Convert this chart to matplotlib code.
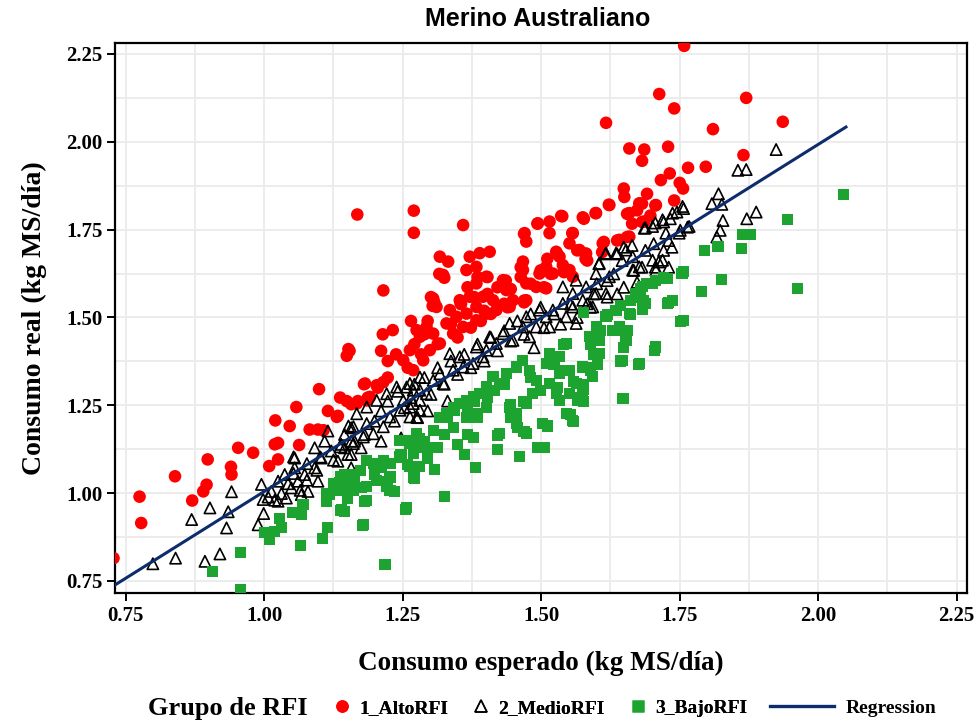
import matplotlib
matplotlib.use("Agg")
import matplotlib.pyplot as plt
import numpy as np
from matplotlib.lines import Line2D
from matplotlib.ticker import MultipleLocator

# values (expected, real consumption, kg MS/dia)
alto_rfi = np.array([
    (0.728, 0.815), (0.775, 0.99), (0.778, 0.915), (0.839, 1.048), (0.87, 0.979), (0.89, 1.005),
    (0.896, 1.024), (0.898, 1.096), (0.94, 1.075), (0.941, 1.053), (0.953, 1.129), (0.98, 1.115),
    (1.009, 1.077), (1.02, 1.207), (1.019, 1.139), (1.025, 1.143), (1.046, 1.191), (1.058, 1.245),
    (1.063, 1.137), (1.025, 1.096), (1.082, 1.181), (1.097, 1.181), (1.099, 1.296), (1.115, 1.234),
    (1.133, 1.22), (1.137, 1.272), (1.149, 1.262), (1.149, 1.391), (1.152, 1.41),
    (1.167, 1.255), (1.185, 1.264), (1.182, 1.312), (1.203, 1.307), (1.215, 1.316), (1.191, 1.274),
    (1.131, 1.217), (1.107, 1.179),
    (1.154, 1.405), (1.214, 1.452), (1.232, 1.464), (1.304, 1.533), (1.355, 1.538), (1.397, 1.519),
    (1.439, 1.529), (1.469, 1.543), (1.211, 1.405), (1.223, 1.376), (1.238, 1.395), (1.223, 1.329),
    (1.205, 1.3), (1.259, 1.357), (1.271, 1.424), (1.289, 1.452), (1.283, 1.395), (1.313, 1.424),
    (1.337, 1.481), (1.349, 1.443), (1.373, 1.471), (1.391, 1.49), (1.409, 1.51), (1.295, 1.49),
    (1.18, 1.31), (1.169, 1.262), (1.157, 1.253), (1.187, 1.272), (1.265, 1.49),
    (1.27, 1.804), (1.27, 1.741), (1.359, 1.763), (1.317, 1.673), (1.332, 1.659), (1.371, 1.673),
    (1.389, 1.683), (1.407, 1.687), (1.323, 1.621), (1.365, 1.635), (1.383, 1.644), (1.401, 1.616),
    (1.383, 1.597), (1.47, 1.74), (1.473, 1.716), (1.494, 1.768), (1.515, 1.773), (1.536, 1.789),
    (1.575, 1.785), (1.599, 1.797), (1.623, 1.82), (1.659, 1.797), (1.677, 1.825), (1.686, 1.773),
    (1.707, 1.82), (1.659, 1.73), (1.641, 1.721), (1.515, 1.74), (1.557, 1.74), (1.551, 1.711),
    (1.527, 1.687), (1.533, 1.673), (1.569, 1.692), (1.581, 1.682), (1.611, 1.711), (1.467, 1.659),
    (1.467, 1.635), (1.497, 1.625), (1.509, 1.644), (1.521, 1.625), (1.539, 1.649), (1.551, 1.635),
    (1.557, 1.616), (1.491, 1.587), (1.509, 1.583), (1.473, 1.597), (1.431, 1.606), (1.437, 1.578),
    (1.449, 1.549), (1.473, 1.549), (1.443, 1.53), (1.305, 1.554), (1.311, 1.53), (1.353, 1.549),
    (1.371, 1.559), (1.383, 1.53), (1.395, 1.559), (1.413, 1.549), (1.419, 1.521), (1.401, 1.511),
    (1.365, 1.511), (1.335, 1.521), (1.347, 1.502), (1.383, 1.492), (1.275, 1.464), (1.293, 1.473),
    (1.305, 1.454), (1.281, 1.445), (1.329, 1.483), (1.341, 1.454), (1.359, 1.473), (1.317, 1.426),
    (1.299, 1.407), (1.263, 1.407), (1.251, 1.378), (1.287, 1.378), (1.269, 1.35),
    (1.168, 1.793), (1.215, 1.577), (1.316, 1.624), (1.325, 1.613), (1.385, 1.615), (1.403, 1.615),
    (1.367, 1.586), (1.379, 1.558), (1.301, 1.558), (1.307, 1.543), (1.355, 1.539), (1.403, 1.567),
    (1.421, 1.586), (1.436, 1.605), (1.445, 1.581), (1.469, 1.738), (1.493, 1.767), (1.538, 1.788),
    (1.577, 1.781), (1.556, 1.74), (1.565, 1.691), (1.58, 1.667), (1.511, 1.667), (1.529, 1.681),
    (1.463, 1.643), (1.463, 1.615), (1.499, 1.634), (1.517, 1.624), (1.541, 1.629), (1.481, 1.596),
    (1.505, 1.586), (1.469, 1.548), (1.433, 1.539),
    (1.758, 2.273), (1.713, 2.136), (1.74, 2.095), (1.87, 2.125), (1.617, 2.054), (1.81, 2.036),
    (1.936, 2.057), (1.659, 1.981), (1.686, 1.978), (1.682, 1.946), (1.729, 1.986), (1.865, 1.962),
    (1.765, 1.926), (1.797, 1.929), (1.732, 1.91), (1.716, 1.891), (1.75, 1.883), (1.756, 1.867),
    (1.649, 1.867), (1.65, 1.843), (1.691, 1.852), (1.74, 1.833), (1.622, 1.821), (1.598, 1.797),
    (1.655, 1.795), (1.673, 1.805), (1.682, 1.824), (1.706, 1.819), (1.697, 1.79), (1.664, 1.767),
    (1.682, 1.772), (1.655, 1.729), (1.637, 1.719), (1.613, 1.715), (1.61, 1.686), (1.58, 1.681),
    (1.583, 1.662),
])

medio_rfi = np.array([
    (0.799, 0.799), (0.84, 0.815), (0.893, 0.806), (0.92, 0.827), (0.869, 0.925), (0.902, 0.958),
    (0.935, 0.947), (0.932, 0.901), (0.941, 1.004), (0.989, 0.91), (0.999, 0.942), (0.995, 1.025),
    (0.998, 0.982), (1.013, 1.005), (1.025, 1.034), (1.037, 1.053), (1.025, 0.977), (1.04, 0.986),
    (1.049, 1.015), (1.055, 1.072), (1.061, 1.034), (1.073, 1.053), (1.079, 1.005), (1.091, 1.072),
    (1.097, 1.034), (1.091, 1.129), (1.103, 1.1), (1.109, 1.148), (1.115, 1.177), (1.121, 1.12),
    (1.133, 1.091), (1.139, 1.139), (1.145, 1.167), (1.152, 1.191), (1.157, 1.11), (1.157, 1.148),
    (1.055, 1.1), (1.067, 0.996),
    (1.167, 1.226), (1.185, 1.245), (1.203, 1.264), (1.221, 1.283), (1.239, 1.302), (1.263, 1.312),
    (1.281, 1.293), (1.269, 1.255), (1.245, 1.236), (1.227, 1.217), (1.215, 1.189), (1.197, 1.169),
    (1.179, 1.16), (1.161, 1.141), (1.137, 1.132), (1.125, 1.094), (1.101, 1.103), (1.095, 1.065),
    (1.077, 1.037), (1.065, 1.008), (1.053, 1.056), (1.043, 1.027), (1.031, 0.999), (1.019, 0.98),
    (1.007, 0.989), (1.053, 1.103), (1.077, 1.084), (1.161, 1.189), (1.185, 1.198), (1.263, 1.217),
    (1.281, 1.236),
    (1.151, 1.11), (1.163, 1.148), (1.157, 1.186), (1.181, 1.167), (1.175, 1.129), (1.199, 1.205),
    (1.211, 1.234), (1.223, 1.262), (1.235, 1.205), (1.241, 1.29), (1.253, 1.243), (1.271, 1.31),
    (1.265, 1.272), (1.277, 1.215), (1.289, 1.329), (1.301, 1.281), (1.313, 1.357), (1.325, 1.31),
    (1.337, 1.376), (1.331, 1.262), (1.349, 1.338), (1.361, 1.395), (1.373, 1.357), (1.385, 1.424),
    (1.397, 1.376), (1.409, 1.443), (1.421, 1.405), (1.433, 1.462), (1.445, 1.433), (1.457, 1.49),
    (1.469, 1.452), (1.481, 1.51), (1.487, 1.414), (1.499, 1.529), (1.505, 1.471), (1.523, 1.51),
    (1.535, 1.481), (1.553, 1.538), (1.565, 1.5), (1.589, 1.529), (1.295, 1.234), (1.247, 1.157),
    (1.211, 1.148), (1.157, 1.072), (1.145, 1.129),
    (1.755, 1.816), (1.767, 1.759), (1.737, 1.797), (1.719, 1.778), (1.701, 1.759), (1.686, 1.754),
    (1.725, 1.74), (1.749, 1.74), (1.653, 1.692), (1.635, 1.683), (1.665, 1.673), (1.617, 1.683),
    (1.677, 1.644), (1.665, 1.635), (1.701, 1.663), (1.719, 1.663), (1.707, 1.635), (1.605, 1.654),
    (1.599, 1.625), (1.623, 1.616), (1.581, 1.587), (1.599, 1.568), (1.617, 1.568), (1.563, 1.606),
    (1.539, 1.587), (1.557, 1.568), (1.575, 1.549), (1.593, 1.53), (1.557, 1.53), (1.539, 1.54),
    (1.521, 1.521), (1.545, 1.502), (1.563, 1.483), (1.497, 1.521), (1.509, 1.502), (1.515, 1.473),
    (1.491, 1.473), (1.473, 1.502), (1.467, 1.473), (1.479, 1.445), (1.443, 1.483), (1.431, 1.454),
    (1.449, 1.435), (1.419, 1.426), (1.407, 1.445), (1.401, 1.407), (1.383, 1.416), (1.395, 1.388),
    (1.377, 1.369), (1.353, 1.388), (1.359, 1.359), (1.335, 1.397), (1.341, 1.35), (1.317, 1.34),
    (1.323, 1.312), (1.305, 1.321), (1.293, 1.283), (1.281, 1.33), (1.269, 1.293), (1.257, 1.302),
    (1.263, 1.245), (1.275, 1.216), (1.251, 1.264), (1.281, 1.264),
    (1.924, 1.978), (1.855, 1.919), (1.87, 1.921), (1.82, 1.852), (1.808, 1.824), (1.826, 1.822),
    (1.888, 1.8), (1.871, 1.781), (1.828, 1.776), (1.823, 1.748), (1.817, 1.729), (1.757, 1.81),
    (1.745, 1.8), (1.733, 1.781), (1.721, 1.772), (1.706, 1.769), (1.688, 1.755), (1.764, 1.757),
    (1.751, 1.748), (1.73, 1.719), (1.736, 1.7), (1.721, 1.691), (1.703, 1.71), (1.688, 1.691),
    (1.664, 1.705), (1.649, 1.7), (1.637, 1.681), (1.616, 1.681), (1.604, 1.653), (1.712, 1.658),
    (1.73, 1.643), (1.706, 1.643), (1.682, 1.643), (1.667, 1.634), (1.646, 1.662), (1.631, 1.624),
    (1.619, 1.605), (1.6, 1.596), (1.649, 1.586), (1.637, 1.567), (1.619, 1.558), (1.595, 1.567),
    (1.583, 1.539), (1.673, 1.6),
])

bajo_rfi = np.array([
    (0.906, 0.777), (0.957, 0.83), (0.957, 0.725), (1.001, 0.887), (1.01, 0.868), (1.019, 0.891),
    (1.028, 0.929), (1.031, 0.901), (1.066, 0.85), (1.052, 0.944), (1.067, 0.939), (1.07, 0.967),
    (1.105, 0.872), (1.115, 0.901), (1.112, 0.977), (1.118, 0.996), (1.138, 0.95), (1.136, 1.029),
    (1.154, 1.015), (1.157, 1.053),
    (1.245, 1.15), (1.263, 1.141), (1.281, 1.155), (1.293, 1.131), (1.269, 1.113), (1.245, 1.103),
    (1.227, 1.084), (1.215, 1.094), (1.197, 1.084), (1.185, 1.094), (1.173, 1.065), (1.161, 1.037),
    (1.149, 1.027), (1.137, 1.046), (1.125, 1.027), (1.137, 1.008), (1.161, 1.008), (1.185, 1.018),
    (1.203, 1.037), (1.227, 1.046), (1.221, 1.018), (1.263, 1.075), (1.281, 1.075), (1.269, 1.046),
    (1.257, 0.958), (1.227, 1.008), (1.113, 0.999), (1.185, 0.98), (1.179, 0.912), (1.139, 0.953),
    (1.115, 0.901), (1.218, 0.798),
    (1.145, 1.053), (1.163, 1.034), (1.151, 0.986), (1.175, 1.015), (1.181, 0.977), (1.199, 1.053),
    (1.211, 1.072), (1.223, 1.034), (1.235, 1.005), (1.247, 1.11), (1.259, 1.082), (1.271, 1.043),
    (1.277, 1.129), (1.289, 1.148), (1.295, 1.1), (1.307, 1.067), (1.313, 1.129), (1.325, 1.167),
    (1.331, 1.215), (1.343, 1.234), (1.349, 1.139), (1.361, 1.11), (1.367, 1.167), (1.367, 1.243),
    (1.379, 1.262), (1.382, 1.072), (1.385, 1.215), (1.403, 1.272), (1.415, 1.291), (1.421, 1.163),
    (1.421, 1.124), (1.433, 1.31), (1.445, 1.253), (1.445, 1.215), (1.457, 1.186), (1.46, 1.105),
    (1.469, 1.176), (1.469, 1.262), (1.481, 1.329), (1.493, 1.129), (1.499, 1.291), (1.505, 1.129),
    (1.511, 1.191), (1.523, 1.367), (1.529, 1.3), (1.535, 1.348), (1.541, 1.424), (1.553, 1.224),
    (1.559, 1.205), (1.559, 1.319), (1.565, 1.272), (1.577, 1.31), (1.589, 1.424), (1.589, 1.348),
    (1.325, 0.991), (1.255, 0.953), (1.178, 0.908), (1.145, 0.948),
    (1.757, 1.63), (1.727, 1.611), (1.701, 1.597), (1.683, 1.587), (1.671, 1.568), (1.689, 1.54),
    (1.737, 1.549), (1.757, 1.492), (1.707, 1.416), (1.677, 1.369), (1.647, 1.378), (1.647, 1.269),
    (1.653, 1.435), (1.617, 1.502), (1.635, 1.521), (1.659, 1.511), (1.599, 1.473), (1.587, 1.445),
    (1.605, 1.435), (1.629, 1.464), (1.641, 1.473), (1.545, 1.426), (1.533, 1.388), (1.515, 1.397),
    (1.509, 1.369), (1.605, 1.397), (1.575, 1.359), (1.551, 1.35), (1.533, 1.34), (1.563, 1.312),
    (1.551, 1.283), (1.575, 1.283), (1.566, 1.264), (1.515, 1.312), (1.491, 1.321), (1.479, 1.35),
    (1.467, 1.378), (1.455, 1.359), (1.437, 1.34), (1.425, 1.312), (1.413, 1.331), (1.401, 1.302),
    (1.389, 1.283), (1.377, 1.274), (1.365, 1.264), (1.353, 1.254), (1.341, 1.245), (1.329, 1.226),
    (1.317, 1.216), (1.365, 1.216), (1.383, 1.226), (1.401, 1.245), (1.443, 1.245), (1.455, 1.226),
    (1.473, 1.254), (1.485, 1.283), (1.527, 1.283), (1.533, 1.264), (1.503, 1.197), (1.545, 1.226),
    (1.557, 1.207), (1.455, 1.197), (1.473, 1.169), (1.425, 1.169), (1.377, 1.159), (1.341, 1.188),
    (1.305, 1.178), (1.275, 1.169), (1.263, 1.15), (1.497, 1.131), (1.593, 1.331),
    (1.577, 1.514), (1.595, 1.443), (1.607, 1.462), (1.595, 1.395), (1.601, 1.367), (1.583, 1.357),
    (1.577, 1.296), (1.577, 1.262), (1.643, 1.462), (1.643, 1.376), (1.649, 1.414), (1.648, 1.269),
    (1.655, 1.462), (1.661, 1.509), (1.675, 1.367), (1.682, 1.524), (1.685, 1.548), (1.705, 1.407),
    (1.728, 1.54), (1.751, 1.489), (1.619, 1.509),
    (1.945, 1.778), (1.864, 1.736), (1.877, 1.736), (1.861, 1.697), (1.819, 1.703), (1.794, 1.691),
    (1.754, 1.624), (1.825, 1.607), (1.79, 1.575), (1.963, 1.583), (1.73, 1.543), (1.721, 1.613),
    (1.706, 1.605), (1.691, 1.596), (1.679, 1.581), (1.673, 1.558), (1.661, 1.548), (1.643, 1.534),
    (1.685, 1.539), (2.045, 1.85),
])

regression_x = [0.73, 2.05]
regression_y = [0.738, 2.042]

tick_values = [0.75, 1.00, 1.25, 1.50, 1.75, 2.00, 2.25]
group_labels = ["1_AltoRFI", "2_MedioRFI", "3_BajoRFI"]

serif = "Liberation Serif"
red, green, navy = "#FF0000", "#1CA330", "#0D2C6C"

fig = plt.figure(figsize=(9.78, 7.24), dpi=100)
ax = fig.add_axes([0.1176, 0.1809, 0.8712, 0.7601])

ax.scatter(alto_rfi[:, 0], alto_rfi[:, 1], s=82, c=red, edgecolors="none", zorder=3)
ax.scatter(medio_rfi[:, 0], medio_rfi[:, 1], s=66, marker="^", facecolors="none",
           edgecolors="black", linewidths=1.2, zorder=4)
ax.scatter(bajo_rfi[:, 0], bajo_rfi[:, 1], s=64, marker="s", c=green, edgecolors="none", zorder=5)
ax.plot(regression_x, regression_y, color=navy, lw=2.2, zorder=6)

ax.set_xlim(0.7307, 2.2686)
ax.set_ylim(0.7157, 2.282)
ax.set_xticks(tick_values)
ax.set_yticks(tick_values)
ax.set_xticklabels([f"{v:.2f}" for v in tick_values])
ax.set_yticklabels([f"{v:.2f}" for v in tick_values])
ax.xaxis.set_minor_locator(MultipleLocator(0.125))
ax.yaxis.set_minor_locator(MultipleLocator(0.125))
ax.grid(True, which="both", color="#EBEBEB", lw=1.3, zorder=0)
ax.set_axisbelow(True)
ax.tick_params(which="major", direction="out", length=6, width=1.4, pad=3)
ax.tick_params(which="minor", length=0)
for lab in ax.get_xticklabels() + ax.get_yticklabels():
    lab.set_fontfamily(serif); lab.set_fontweight("bold"); lab.set_fontsize(15)
for sp in ax.spines.values():
    sp.set_linewidth(1.6)

ax.set_xlabel("Consumo esperado (kg MS/día)", family=serif, weight="bold", fontsize=19.5, labelpad=18)
ax.set_ylabel("Consumo real (kg MS/día)", family=serif, weight="bold", fontsize=20, labelpad=14)
fig.text(0.550, 0.974, "Merino Australiano", ha="center", va="center", fontsize=18,
         weight="bold", family=["Liberation Sans Narrow", "Liberation Sans", "DejaVu Sans"])

# legend: title on the left, marker entries, then the regression line entry
legend_font = {"family": serif, "weight": "bold", "size": 14}
fig.text(148 / 978, 0.022, "Grupo de RFI", ha="left", va="center", family=serif,
         weight="bold", fontsize=19)
marker_handles = [
    Line2D([], [], ls="none", marker="o", ms=9, mfc=red, mec="none"),
    Line2D([], [], ls="none", marker="^", ms=9, mfc="none", mec="black", mew=1.1),
    Line2D([], [], ls="none", marker="s", ms=9, mfc=green, mec="none"),
]
leg1 = fig.legend(marker_handles, group_labels, loc="center left",
                  bbox_to_anchor=(326 / 978, 0.022), ncol=3, frameon=False,
                  handlelength=1.2, handletextpad=0.3, columnspacing=1.1,
                  borderpad=0.2, borderaxespad=0, prop=legend_font)
fig.add_artist(leg1)
fig.legend([Line2D([], [], color=navy, lw=2.4)], ["Regression"], loc="center right",
           bbox_to_anchor=(940 / 978, 0.022), frameon=False, handlelength=3.3,
           handletextpad=0.6, borderpad=0.2, borderaxespad=0, prop=legend_font)

fig.savefig("out.png", dpi=100)
